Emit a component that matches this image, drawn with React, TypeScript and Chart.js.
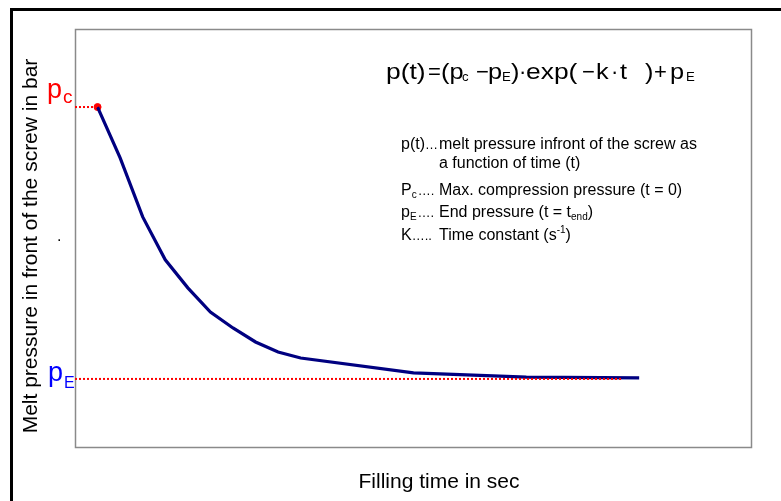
import React, { useEffect, useRef } from "react";
import { Chart, registerables } from "chart.js";

Chart.register(...registerables);

// ---- data ----
const fillingTime = [0, 1, 2, 3, 4, 5, 6, 7, 8, 9, 14, 19, 24];
const meltPressure = [100, 81.3, 59.6, 43.8, 33.5, 24.6, 18.75, 13.6, 9.9, 7.7, 2.2, 0.7, 0.4];
const pcLevel = 100;
const peLevel = 0;
const pcGuideX = [-1, 0];
const peGuideX = [-1, 23.2];
const xRange = [-1, 29];
const yRange = [-25.4, 128.7];

const yTitle = "Melt pressure in front of the screw in bar";
const xTitle = "Filling time in sec";
// each prefix: [main, subscript, dots]; each text: [main, script, tail]
const legendLines: { prefix: [string, string, string]; text: [string, string, string] }[] = [
  { prefix: ["p(t)", "", "…"], text: ["melt pressure infront of the screw as", "", ""] },
  { prefix: ["", "", ""], text: ["a function of time (t)", "", ""] },
  { prefix: ["P", "c", "…."], text: ["Max. compression pressure (t = 0)", "", ""] },
  { prefix: ["p", "E", "…."], text: ["End pressure (t = t", "end", ")"] },
  { prefix: ["K", "", "….."], text: ["Time constant (s", "-1", ")"] },
];

const FONT = '"Liberation Sans", Arial, sans-serif';

function font(size: number) {
  return `${size}px ${FONT}`;
}

const decorPlugin = {
  id: "decor",
  beforeDraw(chart: any) {
    const ctx = chart.ctx as CanvasRenderingContext2D;
    const { left, top, right, bottom } = chart.chartArea;
    ctx.save();
    ctx.fillStyle = "#ffffff";
    ctx.fillRect(0, 0, chart.width, chart.height);
    // outer frame (top + left)
    ctx.fillStyle = "#000000";
    ctx.fillRect(10, 8, chart.width - 10, 3);
    ctx.fillRect(10, 8, 3, chart.height - 8);
    // plot frame
    ctx.strokeStyle = "#8a8a8a";
    ctx.lineWidth = 1.5;
    ctx.strokeRect(left + 0.5, top + 0.5, right - left - 1, bottom - top - 1);
    ctx.restore();
  },
  afterDraw(chart: any) {
    const ctx = chart.ctx as CanvasRenderingContext2D;
    const ys = chart.scales.y;
    ctx.save();
    ctx.textBaseline = "alphabetic";
    ctx.textAlign = "left";

    // y title
    ctx.save();
    ctx.fillStyle = "#000";
    ctx.font = font(21);
    ctx.translate(37, 246);
    ctx.rotate(-Math.PI / 2);
    ctx.textAlign = "center";
    ctx.fillText(yTitle, 0, 0);
    ctx.restore();

    // x title
    ctx.fillStyle = "#000";
    ctx.font = font(21);
    ctx.textAlign = "center";
    ctx.fillText(xTitle, 439, 488);
    ctx.textAlign = "left";

    // stray dot
    ctx.font = font(16);
    ctx.fillText(".", 57, 241);

    // p_c label
    const pcY = ys.getPixelForValue(pcLevel);
    ctx.fillStyle = "#ff0000";
    ctx.font = font(27);
    ctx.fillText("p", 47, pcY - 9);
    ctx.font = font(19);
    ctx.fillText("c", 63, pcY - 4);

    // p_E label
    const peY = ys.getPixelForValue(peLevel);
    ctx.fillStyle = "#0000ff";
    ctx.font = font(27);
    ctx.fillText("p", 48, peY + 2);
    ctx.font = font(16);
    ctx.fillText("E", 64, peY + 9);

    // formula: [text, x, size, dy, horizontal stretch]
    ctx.fillStyle = "#000";
    const fb = 79;
    const big = 22;
    const sub = 12;
    const parts: [string, number, number, number, number][] = [
      ["p(t)", 386, big, 0, 1.2],
      ["=", 428, big, 0, 1.0],
      ["(p", 441, big, 0, 1.15],
      ["c", 462, sub, 2, 1.1],
      ["−", 476, big, 0, 1.0],
      ["p", 488, big, 0, 1.15],
      ["E", 502, sub, 2, 1.1],
      [")", 511, big, 0, 1.15],
      ["·", 519, big, 0, 1.0],
      ["exp(", 526, big, 0, 1.2],
      ["−", 582, big, 0, 1.0],
      ["k", 596, big, 0, 1.15],
      ["·", 611, big, 0, 1.0],
      ["t", 620, big, 0, 1.15],
      [")", 645, big, 0, 1.15],
      ["+", 654, big, 0, 1.0],
      ["p", 670, big, 0, 1.15],
      ["E", 686, sub, 2, 1.1],
    ];
    for (const [t, x, s, dy, sx] of parts) {
      ctx.save();
      ctx.font = font(s);
      ctx.translate(x, fb + dy);
      ctx.scale(sx, 1);
      ctx.fillText(t, 0, 0);
      ctx.restore();
    }

    // legend text
    const baselines = [149, 168, 195, 217, 240];
    legendLines.forEach((ln, i) => {
      const b = baselines[i];
      let cx = 401;
      if (ln.prefix[0] || ln.prefix[2]) {
        ctx.font = font(16);
        ctx.fillText(ln.prefix[0], cx, b);
        cx += ctx.measureText(ln.prefix[0]).width;
        if (ln.prefix[1]) {
          ctx.font = font(10);
          ctx.fillText(ln.prefix[1], cx, b + 3);
          cx += ctx.measureText(ln.prefix[1]).width + 1;
        }
        ctx.font = font(13);
        ctx.fillText(ln.prefix[2], cx, b);
      }
      let tx = 439;
      ctx.font = font(16);
      ctx.fillText(ln.text[0], tx, b);
      tx += ctx.measureText(ln.text[0]).width;
      if (ln.text[1]) {
        const isSup = ln.text[1].startsWith("-");
        ctx.font = font(10);
        ctx.fillText(ln.text[1], tx, isSup ? b - 7 : b + 3);
        tx += ctx.measureText(ln.text[1]).width;
        ctx.font = font(16);
        ctx.fillText(ln.text[2], tx, b);
      }
    });
    ctx.restore();
  },
};

export default function App() {
  const ref = useRef<HTMLCanvasElement | null>(null);
  useEffect(() => {
    if (!ref.current) return;
    const curve = fillingTime.map((t, i) => ({ x: t, y: meltPressure[i] }));
    const chart = new Chart(ref.current, {
      type: "line",
      data: {
        datasets: [
          {
            data: pcGuideX.map((x) => ({ x, y: pcLevel })),
            borderColor: "#ff0000",
            borderWidth: 2,
            borderDash: [2, 2],
            pointRadius: 0,
          },
          {
            data: peGuideX.map((x) => ({ x, y: peLevel })),
            borderColor: "#ff0000",
            borderWidth: 2,
            borderDash: [2, 2],
            pointRadius: 0,
          },
          {
            data: curve,
            borderColor: "#000080",
            borderWidth: 3.2,
            pointRadius: 0,
            tension: 0,
          },
          {
            data: [{ x: fillingTime[0], y: pcLevel }],
            borderColor: "#ff0000",
            backgroundColor: "#ff0000",
            pointRadius: 3.5,
            showLine: false,
          },
        ],
      },
      options: {
        animation: false,
        responsive: false,
        devicePixelRatio: 1,
        layout: { padding: { left: 75, top: 29, right: 29, bottom: 53 } },
        plugins: { legend: { display: false }, tooltip: { enabled: false }, title: { display: false } },
        scales: {
          x: { type: "linear", min: xRange[0], max: xRange[1], display: false },
          y: { type: "linear", min: yRange[0], max: yRange[1], display: false },
        },
      },
      plugins: [decorPlugin],
    });
    return () => chart.destroy();
  }, []);
  return (
    <div style={{ position: "fixed", left: 0, top: 0, width: 781, height: 501 }}>
      <canvas ref={ref} width={781} height={501} style={{ display: "block" }} />
    </div>
  );
}
